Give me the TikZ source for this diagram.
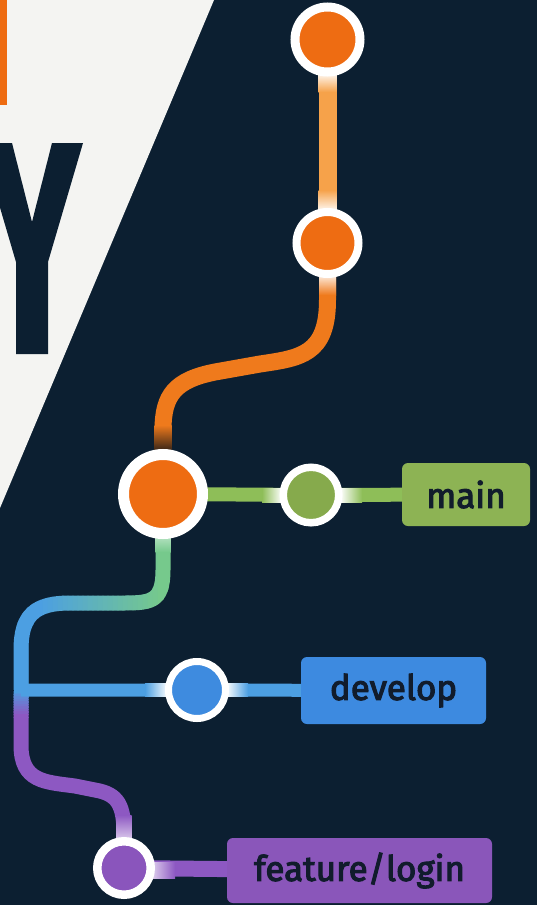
\documentclass[tikz,border=0pt]{standalone}
\usepackage{fontspec}
\setmainfont{Fira Sans}
\newfontfamily\lblfont{Fira Sans}[FakeBold=3]
\pgfdeclarelayer{bg}
\pgfdeclarelayer{lines}
\pgfsetlayers{bg,lines,main}
\definecolor{navy}{HTML}{0C1F31}
\definecolor{paper}{HTML}{F4F4F2}
\definecolor{orangeA}{HTML}{EE6C12}
\definecolor{orangeL}{HTML}{F6A24A}
\definecolor{orangeM}{HTML}{EF7A1C}
\definecolor{darkbrown}{HTML}{3A2618}
\definecolor{greenN}{HTML}{86AA4C}
\definecolor{greenL}{HTML}{8EBE58}
\definecolor{greenBox}{HTML}{8DB354}
\definecolor{mint}{HTML}{76C98C}
\definecolor{blueL}{HTML}{4C9FE2}
\definecolor{blueN}{HTML}{3E8BDF}
\definecolor{blueBox}{HTML}{3D8AE0}
\definecolor{purpleL}{HTML}{8D58C2}
\definecolor{purpleN}{HTML}{8A55BC}
\definecolor{purpleBox}{HTML}{8A56BA}
\definecolor{ink}{HTML}{111C2C}
\begin{document}
\begin{tikzpicture}[x=1pt,y=-1pt,
  commit/.style={circle, inner sep=0pt, outer sep=0pt, draw=white},
  branchlabel/.style={rectangle, rounded corners=6pt, inner sep=0pt,
     font=\lblfont\fontsize{35}{35}\selectfont, text=ink},
  glow/.style={draw=none}]
\useasboundingbox (0,0) rectangle (537,905);
\begin{pgfonlayer}{bg}
  \clip (0,0) rectangle (537,905);
  \fill[navy] (0,0) rectangle (537,905);
  \fill[paper] (0,0) -- (214,0) -- (0,508) -- cycle;
  \fill[orangeA] (0,0) rectangle (6.5,105);
  \fill[navy] (-19,143) -- (12,143) -- (32,222) -- (52,143) -- (83,143)
     -- (48,262) -- (48,354) -- (16,354) -- (16,262) -- cycle;
\end{pgfonlayer}

\node[commit, fill=orangeA, minimum size=65pt, line width=9pt] (c1) at (327.5,39.5) {};
\node[commit, fill=orangeA, minimum size=62pt, line width=8pt] (c2) at (327.5,243) {};
\node[commit, fill=orangeA, minimum size=79pt, line width=11pt] (c3) at (163,494) {};
\node[commit, fill=greenN, minimum size=55.5pt, line width=7.5pt] (c4) at (311,495) {};
\node[branchlabel, fill=greenBox, minimum width=128pt, minimum height=63pt] (main) at (466,494.5) {main};
\node[commit, fill=blueN, minimum size=57pt, line width=7pt] (c5) at (197,690) {};
\node[branchlabel, fill=blueBox, minimum width=185pt, minimum height=67pt] (dev) at (393.5,690.5) {develop};
\node[commit, fill=purpleN, minimum size=53.5pt, line width=8.5pt] (c6) at (124,868) {};
\node[branchlabel, fill=purpleBox, minimum width=265pt, minimum height=65pt] (feat) at (359.5,870.5) {feature/login};
\coordinate (j) at (21,690);

\begin{pgfonlayer}{lines}
  \draw[line width=18pt, orangeL] (c1.center) -- (c2.center);
  \draw[line width=17pt, orangeM] (c2.center) -- (327.5,300)
     .. controls (327.5,355) and (300,358) .. (260,364) -- (215,372)
     .. controls (175,380) and (163,395) .. (163,430) -- (c3.center);
  \draw[line width=14pt, greenL] (c3.center) -- (c4.center) -- (main.center);
  % green to blue branch
  \foreach \i in {0,...,33} {
    \pgfmathsetmacro\xa{8+5*\i}
    \pgfmathtruncatemacro\t{max(0,min(100,(\xa+2.5-40)/1.2))}
    \colorlet{bandc}{mint!\t!blueL}
    \begin{scope}
      \clip (\xa-0.4,530) rectangle (\xa+5.4,700);
      \draw[line width=15pt, bandc] (c3.center) -- (163,570)
        .. controls (163,603) and (150,603) .. (120,603) -- (70,603)
        .. controls (35,603) and (21,615) .. (21,650) -- (j);
    \end{scope}
  }
  % blue to purple branch
  \foreach \i in {0,...,9} {
    \pgfmathsetmacro\ya{692+2.5*\i}
    \pgfmathtruncatemacro\t{10*\i+10}
    \colorlet{bandc}{purpleL!\t!blueL}
    \begin{scope}
      \clip (0,\ya-0.4) rectangle (200,\ya+2.9);
      \draw[line width=15pt, bandc] (j) -- (21,745)
        .. controls (21,782) and (45,782) .. (75,786) -- (95,790)
        .. controls (118,794) and (124,805) .. (124,835) -- (c6.center);
    \end{scope}
  }
  \begin{scope}
    \clip (0,689) rectangle (200,692);
    \draw[line width=15pt, blueL] (j) -- (21,745);
  \end{scope}
  \begin{scope}
    \clip (0,717) rectangle (200,905);
    \draw[line width=15pt, purpleL] (j) -- (21,745)
      .. controls (21,782) and (45,782) .. (75,786) -- (95,790)
      .. controls (118,794) and (124,805) .. (124,835) -- (c6.center);
  \end{scope}
  \draw[line width=13pt, blueL] (j) -- (c5.center) -- (dev.center);
  \draw[line width=16pt, purpleL] (c6.center) -- (feat.center);
  % glows
  \shade[glow, top color=white, bottom color=orangeL] (318.5,72) rectangle (336.5,92);
  \shade[glow, top color=orangeL, bottom color=white] (318.5,190) rectangle (336.5,212);
  \shade[glow, top color=white, bottom color=orangeM] (319,272) rectangle (336,295);
  \shade[glow, top color=orangeM, bottom color=darkbrown] (154.5,425) rectangle (171.5,450);
  \shade[glow, top color=white!50!mint, bottom color=mint] (155.5,535) rectangle (170.5,552);
  \shade[glow, left color=greenL, right color=white] (262,488) rectangle (282,502);
  \shade[glow, left color=white, right color=greenL] (340,488) rectangle (362,502);
  \shade[glow, left color=blueL, right color=white] (145,683.5) rectangle (168,696.5);
  \shade[glow, left color=white, right color=blueL] (226,683.5) rectangle (248,696.5);
  \shade[glow, top color=purpleL, bottom color=white!70!purpleL] (116.5,815) rectangle (131.5,840);
  \shade[glow, left color=white!70!purpleL, right color=purpleL] (152,862) rectangle (175,878);
\end{pgfonlayer}
\end{tikzpicture}
\end{document}
